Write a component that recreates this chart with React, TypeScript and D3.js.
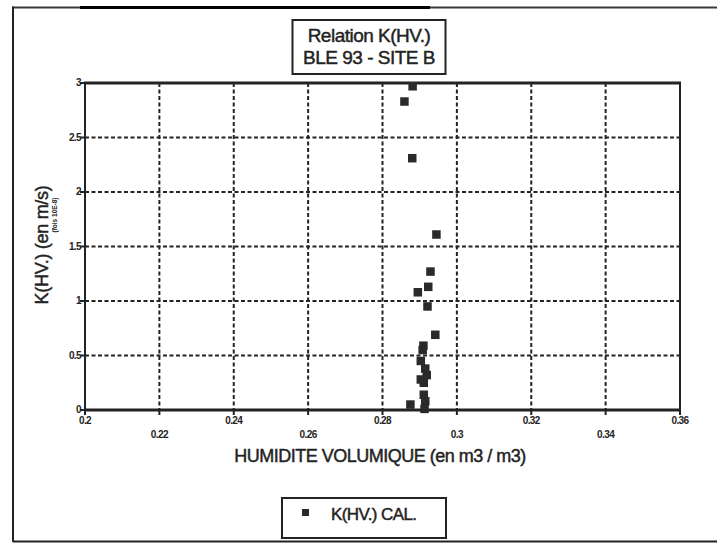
import React from "react";
import * as d3 from "d3";

const xTicks = [0.2, 0.22, 0.24, 0.26, 0.28, 0.3, 0.32, 0.34, 0.36];
const xTickLabels = ["0.2", "0.22", "0.24", "0.26", "0.28", "0.3", "0.32", "0.34", "0.36"];
const yTicks = [0, 0.5, 1, 1.5, 2, 2.5, 3];
const yTickLabels = ["0", "0.5", "1", "1.5", "2", "2.5", "3"];

const humidite = [
  0.2881, 0.2859, 0.288, 0.2945, 0.2929, 0.2923, 0.2895, 0.2921, 0.2942, 0.291,
  0.2908, 0.2903, 0.2915, 0.2919, 0.2903, 0.2911, 0.2911, 0.2915, 0.2875, 0.2913,
];
const kValues = [
  2.97, 2.83, 2.31, 1.61, 1.27, 1.13, 1.08, 0.95, 0.69, 0.59,
  0.55, 0.45, 0.38, 0.32, 0.28, 0.25, 0.14, 0.08, 0.05, 0.01,
];

const titleLines = ["Relation K(HV.)", "BLE 93 - SITE B"];
const xTitle = "HUMIDITE VOLUMIQUE (en m3 / m3)";
const yTitle = "K(HV.) (en m/s)";
const ySubTitle = "(fois 10E-8)";
const legendLabel = "K(HV.) CAL.";

const W = 717;
const H = 544;
const plot = { left: 85, right: 680, top: 83, bottom: 410 };
const font = "'Liberation Sans', Arial, Helvetica, sans-serif";
const ink = "#232323";

export default function App() {
  const x = d3.scaleLinear().domain([0.2, 0.36]).range([plot.left, plot.right]);
  const y = d3.scaleLinear().domain([0, 3]).range([plot.bottom, plot.top]);
  const pts = humidite.map((h, i) => ({ h, k: kValues[i] }));
  const ms = 8.5;
  const bigText = { fill: ink, stroke: ink, strokeWidth: 0.45 };

  return (
    <svg
      width={W}
      height={H}
      style={{ position: "absolute", left: 0, top: 0, background: "#fff" }}
      fontFamily={font}
    >
      {/* outer frame */}
      <line x1={12} y1={7.5} x2={W} y2={7.5} stroke="#3a3a3a" strokeWidth={2} />
      <line x1={80} y1={7.5} x2={430} y2={7.5} stroke="#000" strokeWidth={3} />
      <line x1={13} y1={6.5} x2={13} y2={542} stroke={ink} strokeWidth={2} />
      <line x1={13} y1={541.5} x2={W} y2={541.5} stroke={ink} strokeWidth={2} />

      {/* title box */}
      <rect x={292.5} y={20} width={153} height={54} fill="#fff" stroke={ink} strokeWidth={2} />
      {titleLines.map((t, i) => (
        <text
          key={t}
          x={369}
          y={42 + i * 22}
          textAnchor="middle"
          fontSize={19}
          letterSpacing={-0.5}
          {...bigText}
        >
          {t}
        </text>
      ))}

      {/* gridlines */}
      {xTicks.slice(1, -1).map((v) => (
        <line
          key={"gx" + v}
          x1={x(v)}
          x2={x(v)}
          y1={plot.top}
          y2={plot.bottom}
          stroke={ink}
          strokeWidth={2}
          strokeDasharray="4,2.5"
        />
      ))}
      {yTicks.slice(1, -1).map((v) => (
        <line
          key={"gy" + v}
          x1={plot.left}
          x2={plot.right}
          y1={y(v)}
          y2={y(v)}
          stroke={ink}
          strokeWidth={2}
          strokeDasharray="4,2.5"
        />
      ))}

      {/* plot frame */}
      <rect
        x={plot.left}
        y={plot.top}
        width={plot.right - plot.left}
        height={plot.bottom - plot.top}
        fill="none"
        stroke={ink}
        strokeWidth={2}
      />
      <line x1={plot.left - 1} x2={plot.right + 1} y1={plot.bottom} y2={plot.bottom} stroke={ink} strokeWidth={3} />
      <line x1={plot.left - 1} x2={plot.right + 1} y1={plot.top} y2={plot.top} stroke={ink} strokeWidth={3} />

      {/* y ticks */}
      {yTicks.map((v, i) => (
        <g key={"yt" + v}>
          <line x1={plot.left - 5} x2={plot.left} y1={y(v)} y2={y(v)} stroke={ink} strokeWidth={2} />
          <text
            x={plot.left - 4}
            y={y(v) + 3}
            textAnchor="end"
            fontSize={10}
            fontWeight="bold"
            fill={ink}
            letterSpacing={-0.6}
          >
            {yTickLabels[i]}
          </text>
        </g>
      ))}

      {/* x ticks */}
      {xTicks.map((v, i) => (
        <g key={"xt" + v}>
          <line x1={x(v)} x2={x(v)} y1={plot.bottom} y2={plot.bottom + 5} stroke={ink} strokeWidth={2} />
          <text
            x={x(v)}
            y={i % 2 === 0 ? 424 : 438}
            textAnchor="middle"
            fontSize={10}
            fontWeight="bold"
            fill={ink}
            letterSpacing={-0.6}
          >
            {xTickLabels[i]}
          </text>
        </g>
      ))}

      {/* axis titles */}
      <text x={380} y={462} textAnchor="middle" fontSize={18} letterSpacing={-0.5} {...bigText}>
        {xTitle}
      </text>
      <text
        transform={`translate(48,245) rotate(-90)`}
        textAnchor="middle"
        fontSize={18}
        letterSpacing={-0.3}
        {...bigText}
      >
        {yTitle}
      </text>
      <text
        transform={`translate(57,215) rotate(-90)`}
        textAnchor="middle"
        fontSize={6.5}
        fontWeight="bold"
        fill={ink}
      >
        {ySubTitle}
      </text>

      {/* points */}
      {pts.map((p, i) => (
        <rect
          key={"p" + i}
          x={x(p.h) - ms / 2}
          y={y(p.k) - ms / 2}
          width={ms}
          height={ms}
          fill="#2a2a2a"
        />
      ))}

      {/* legend */}
      <rect x={282} y={498} width={164} height={40} fill="#fff" stroke={ink} strokeWidth={2} />
      <rect x={302} y={509} width={7} height={7} fill="#2a2a2a" />
      <text x={331} y={520} fontSize={17} letterSpacing={-0.6} {...bigText}>
        {legendLabel}
      </text>
    </svg>
  );
}
